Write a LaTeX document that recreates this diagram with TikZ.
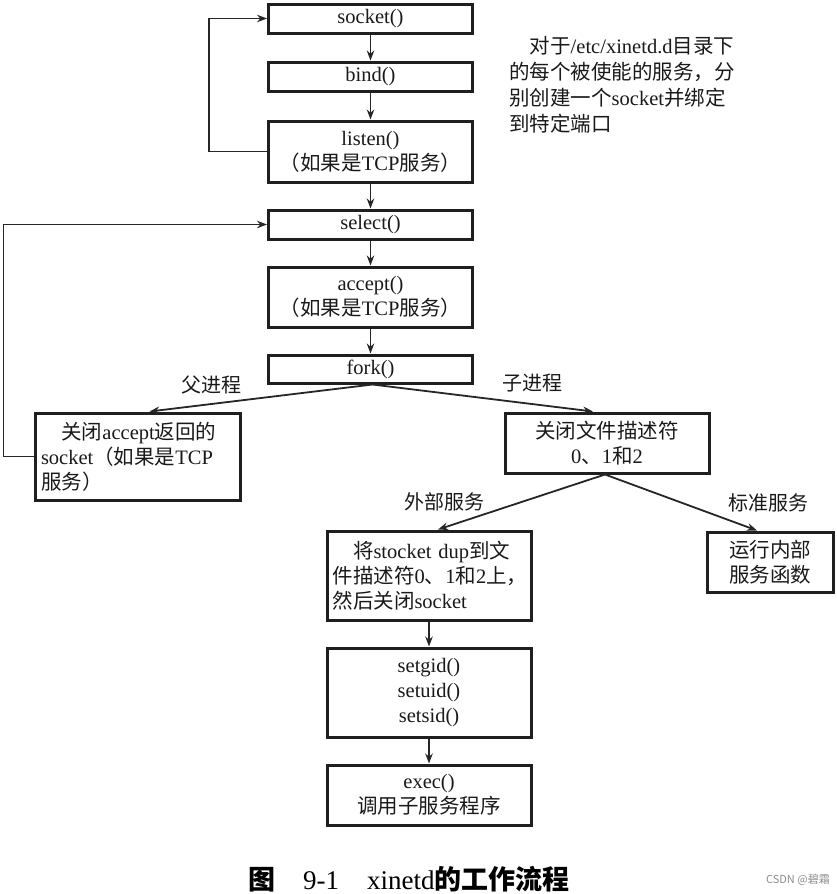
\documentclass[tikz,border=0pt]{standalone}
\usepackage{fontspec}
\setmainfont{Liberation Serif}
\newfontfamily\cjk{Noto Sans CJK SC}
\usetikzlibrary{arrows.meta}
\tikzset{
  box/.style={draw=black!88, line width=3pt, minimum width=204pt, align=center,
    font=\fontsize{20.5}{25}\selectfont, inner sep=2pt, text=black!90},
  lbox/.style={box, align=left, text width=193pt, inner xsep=5.5pt},
  conn/.style={line width=1.8pt, draw=black!85, -{Stealth[length=10pt,width=7.5pt]}},
  lbl/.style={font=\fontsize{20}{24}\selectfont, text=black!90, inner sep=0pt},
}
\begin{document}
\begin{tikzpicture}[x=1pt,y=-1pt]
\useasboundingbox (0,0) rectangle (837,894);

\node[box, minimum height=29pt] (socket) at (370.5,18.5) {socket()};
\node[box, minimum height=29pt] (bind) at (370.5,76.5) {bind()};
\node[box, minimum height=61pt] (listen) at (370.5,151.5) {listen()\\{\cjk （如果是}TCP{\cjk 服务）}};
\node[box, minimum height=29pt] (select) at (370.5,224.5) {select()};
\node[box, minimum height=60pt] (accept) at (370.5,297) {accept()\\{\cjk （如果是}TCP{\cjk 服务）}};
\node[box, minimum height=28pt] (fork) at (370.5,369) {fork()};

\node[lbox, minimum width=205pt, minimum height=87pt] (close) at (137.5,456.5)
  {\hspace*{1em}{\cjk 关闭}accept{\cjk 返回的}\\socket{\cjk （如果是}TCP\\{\cjk 服务）}};
\node[box, minimum height=60pt] (closefd) at (607,443)
  {{\cjk 关闭文件描述符}\\0{\cjk 、}1{\cjk 和}2};

\node[lbox, minimum height=89pt] (dup) at (429,575.5)
  {\hspace*{1em}{\cjk 将}stocket dup{\cjk 到文}\\{\cjk 件描述符}0{\cjk 、}1{\cjk 和}2{\cjk 上，}\\{\cjk 然后关闭}socket};
\node[box, minimum height=89pt] (setid) at (429,692.5) {setgid()\\setuid()\\setsid()};
\node[box, minimum height=60pt] (exec) at (429,795) {exec()\\{\cjk 调用子服务程序}};
\node[box, minimum width=126pt, minimum height=60pt] (internal) at (770,562)
  {{\cjk 运行内部}\\{\cjk 服务函数}};

\node[lbl, anchor=north west, align=left, font=\fontsize{20.5}{26}\selectfont] (note) at (509,36)
  {\hspace*{1em}{\cjk 对于}/etc/xinetd.d{\cjk 目录下}\\{\cjk 的每个被使能的服务，分}\\{\cjk 别创建一个}socket{\cjk 并绑定}\\{\cjk 到特定端口}};

\node[lbl] (lparent) at (211,385) {\cjk 父进程};
\node[lbl] (lchild) at (532,383) {\cjk 子进程};
\node[lbl] (lext) at (444,502) {\cjk 外部服务};
\node[lbl] (lstd) at (768,503) {\cjk 标准服务};

\draw[conn] (socket) -- (bind);
\draw[conn] (bind) -- (listen);
\draw[conn] (listen) -- (select);
\draw[conn] (select) -- (accept);
\draw[conn] (accept) -- (fork);
\draw[conn] (listen.west) -- ++(-58,0) |- (socket.west);
\draw[conn] (close.west) -- ++(-30,0) |- (select.west);
\draw[conn] ([xshift=2pt]fork.south) -- ([xshift=12pt]close.north);
\draw[conn] ([xshift=2pt]fork.south) -- ([xshift=-14pt]closefd.north);
\draw[conn] ([xshift=-2pt]closefd.south) -- ([xshift=9pt]dup.north);
\draw[conn] ([xshift=-2pt]closefd.south) -- ([xshift=-13pt]internal.north);
\draw[conn] (dup) -- (setid);
\draw[conn] (setid) -- (exec);

\node[anchor=west, inner sep=0pt, font=\fontsize{27}{30}\selectfont] (caption) at (248,879)
  {{\cjk\bfseries 图}\hspace{28pt}9-1\hspace{28pt}xinetd{\cjk\bfseries 的工作流程}};
\node[anchor=east, inner sep=0pt, text=black!45, font=\cjk\fontsize{11}{13}\selectfont] (wm) at (830,880) {CSDN @碧霜};
\end{tikzpicture}
\end{document}
